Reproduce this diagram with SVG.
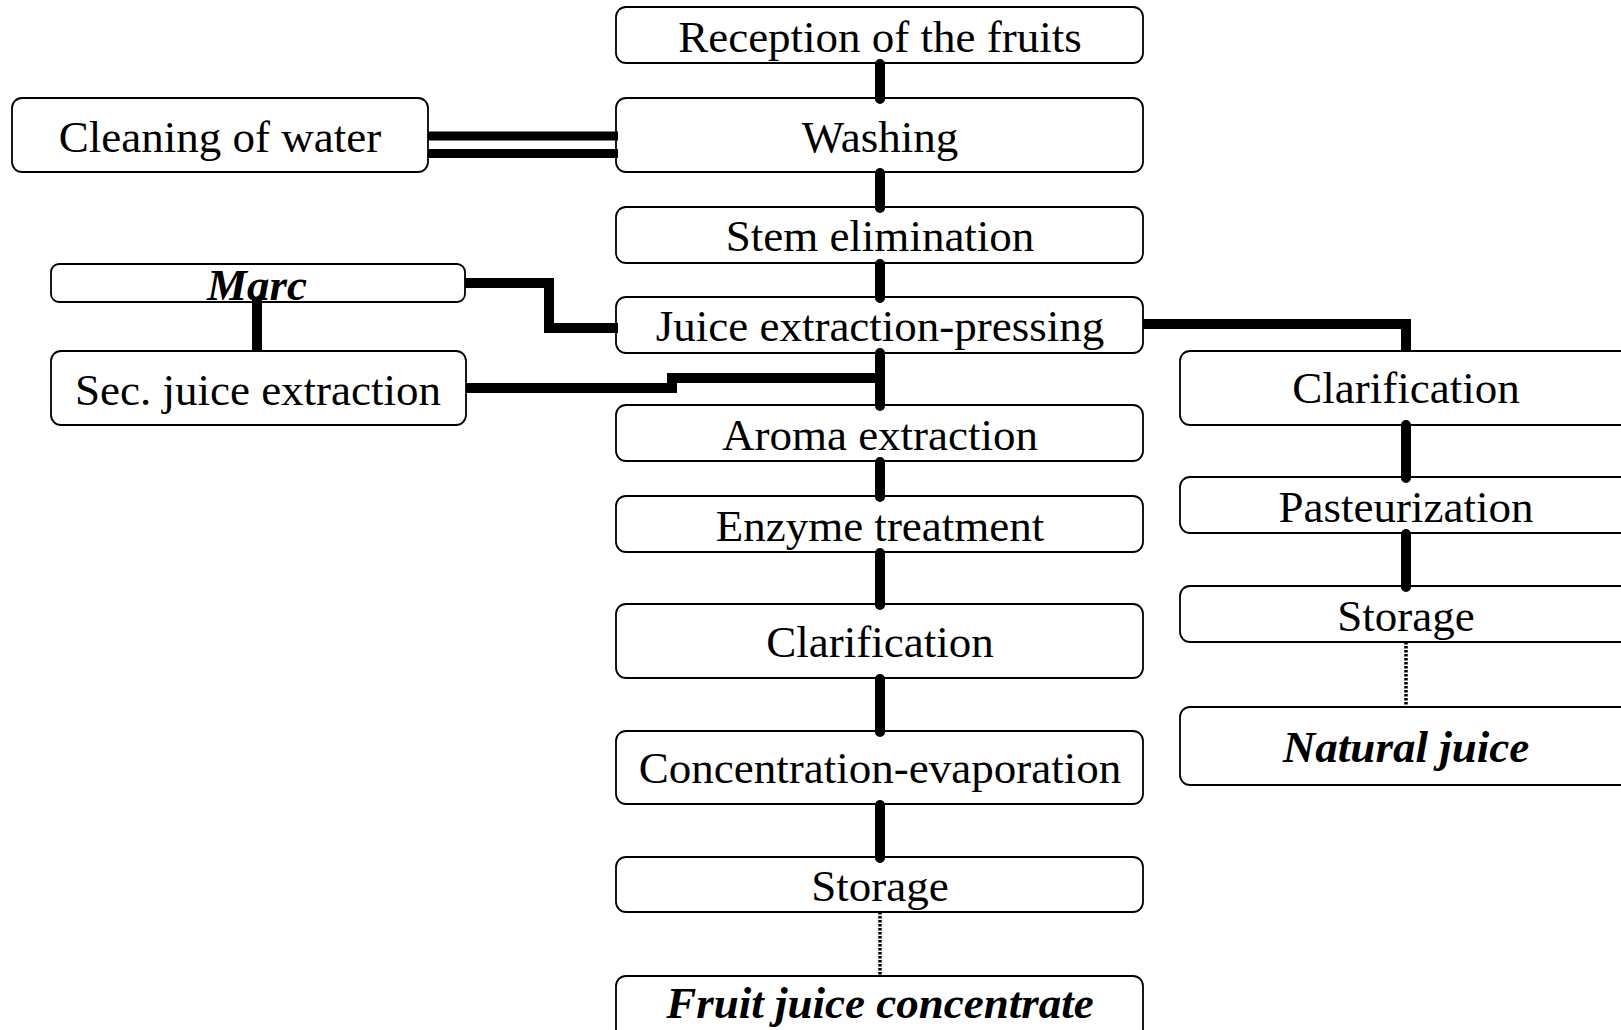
<svg xmlns="http://www.w3.org/2000/svg" width="1621" height="1030" viewBox="0 0 1621 1030">
<style>
.box{fill:#fff;stroke:#000;stroke-width:1.8}
.t{font-family:"Liberation Serif","Times New Roman",serif;font-size:45px;fill:#000;text-anchor:middle}
.bi{font-weight:bold;font-style:italic}
.c{fill:none;stroke:#000;stroke-width:10}
.v{stroke-linecap:round}
.d{fill:none;stroke:#000;stroke-width:3.5;stroke-dasharray:2.5 1.5}
.w{fill:none;stroke:#000;stroke-width:9}
</style>
<rect width="1621" height="1030" fill="#fff"/>
<g id="reception"><rect class="box" x="616" y="7" width="527" height="56" rx="10"/><text class="t" x="880" y="52">Reception of the fruits</text></g>
<g id="washing"><rect class="box" x="616" y="98" width="527" height="74" rx="10"/><text class="t" x="880" y="152">Washing</text></g>
<g id="stem"><rect class="box" x="616" y="207" width="527" height="56" rx="10"/><text class="t" x="880" y="251">Stem elimination</text></g>
<g id="juice"><rect class="box" x="616" y="297" width="527" height="56" rx="10"/><text class="t" x="880" y="341">Juice extraction-pressing</text></g>
<g id="aroma"><rect class="box" x="616" y="405" width="527" height="56" rx="10"/><text class="t" x="880" y="450">Aroma extraction</text></g>
<g id="enzyme"><rect class="box" x="616" y="496" width="527" height="56" rx="10"/><text class="t" x="880" y="541">Enzyme treatment</text></g>
<g id="clarification"><rect class="box" x="616" y="604" width="527" height="74" rx="10"/><text class="t" x="880" y="657">Clarification</text></g>
<g id="concentration"><rect class="box" x="616" y="731" width="527" height="73" rx="10"/><text class="t" x="880" y="783">Concentration-evaporation</text></g>
<g id="storage"><rect class="box" x="616" y="857" width="527" height="55" rx="10"/><text class="t" x="880" y="901">Storage</text></g>
<g id="concentrate"><rect class="box" x="616" y="976" width="527" height="74" rx="10"/><text class="t bi" x="880" y="1018">Fruit juice concentrate</text></g>
<g id="cleaning"><rect class="box" x="12" y="98" width="416" height="74" rx="10"/><text class="t" x="220" y="152">Cleaning of water</text></g>
<g id="marc"><rect class="box" x="51" y="264" width="414" height="38" rx="8"/><text class="t bi" x="257" y="300">Marc</text></g>
<g id="secjuice"><rect class="box" x="51" y="351" width="415" height="74" rx="10"/><text class="t" x="258" y="405">Sec. juice extraction</text></g>
<g id="clarification2"><rect class="box" x="1180" y="351" width="452" height="74" rx="10"/><text class="t" x="1406" y="403">Clarification</text></g>
<g id="pasteurization"><rect class="box" x="1180" y="477" width="452" height="56" rx="10"/><text class="t" x="1406" y="522">Pasteurization</text></g>
<g id="storage2"><rect class="box" x="1180" y="586" width="452" height="56" rx="10"/><text class="t" x="1406" y="631">Storage</text></g>
<g id="natural"><rect class="box" x="1180" y="707" width="452" height="78" rx="10"/><text class="t bi" x="1406" y="762">Natural juice</text></g>
<g id="connectors">
<path class="c v" d="M880 64V99M880 173V208M880 264V298M880 353V406M880 462V497M880 553V605M880 679V732M880 805V858"/>
<path class="d" d="M880 912V977"/>
<path class="c v" d="M1406 425V478M1406 534V587"/>
<path class="d" d="M1406 642V707"/>
<path class="c" d="M1143 324H1406V352"/>
<path class="c" d="M465 283H549V328H618"/>
<path class="c" d="M257 297V352"/>
<path class="c" d="M466 388H677"/>
<path class="c" d="M667 378H880"/>
<path class="w" d="M428 136H618M428 153.5H618"/>
</g>
</svg>
